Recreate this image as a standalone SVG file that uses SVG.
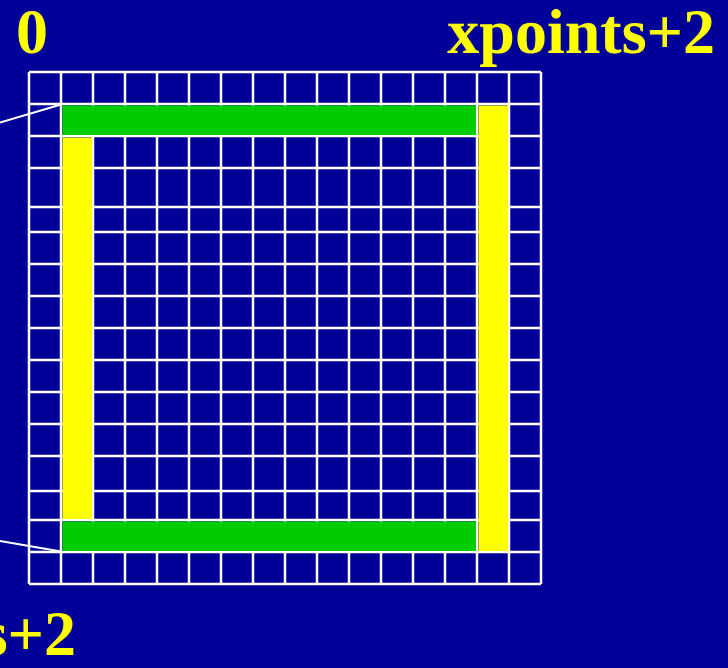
<svg xmlns="http://www.w3.org/2000/svg" width="728" height="668" viewBox="0 0 728 668">
<style>
.grid line{stroke:#ffffff;stroke-width:2.5}
.lbl{font-family:"Liberation Serif","Times New Roman",serif;font-weight:bold;font-size:64px;fill:#ffff00}
.green{fill:#00cc00}
.yellow{fill:#ffff00}
.conn{stroke:#ffffff;stroke-width:2;fill:none}
</style>
<rect width="728" height="668" fill="#000099"/>
<g id="grid" class="grid">
<line x1="29" y1="72" x2="29" y2="584"/>
<line x1="61" y1="72" x2="61" y2="584"/>
<line x1="93" y1="72" x2="93" y2="584"/>
<line x1="125" y1="72" x2="125" y2="584"/>
<line x1="157" y1="72" x2="157" y2="584"/>
<line x1="189" y1="72" x2="189" y2="584"/>
<line x1="221" y1="72" x2="221" y2="584"/>
<line x1="253" y1="72" x2="253" y2="584"/>
<line x1="285" y1="72" x2="285" y2="584"/>
<line x1="317" y1="72" x2="317" y2="584"/>
<line x1="349" y1="72" x2="349" y2="584"/>
<line x1="381" y1="72" x2="381" y2="584"/>
<line x1="413" y1="72" x2="413" y2="584"/>
<line x1="445" y1="72" x2="445" y2="584"/>
<line x1="477" y1="72" x2="477" y2="584"/>
<line x1="509" y1="72" x2="509" y2="584"/>
<line x1="541" y1="72" x2="541" y2="584"/>
<line x1="29" y1="72" x2="541" y2="72"/>
<line x1="29" y1="104" x2="541" y2="104"/>
<line x1="29" y1="136" x2="541" y2="136"/>
<line x1="29" y1="168" x2="541" y2="168"/>
<line x1="29" y1="207" x2="541" y2="207"/>
<line x1="29" y1="232" x2="541" y2="232"/>
<line x1="29" y1="264" x2="541" y2="264"/>
<line x1="29" y1="296" x2="541" y2="296"/>
<line x1="29" y1="328" x2="541" y2="328"/>
<line x1="29" y1="360" x2="541" y2="360"/>
<line x1="29" y1="392" x2="541" y2="392"/>
<line x1="29" y1="424" x2="541" y2="424"/>
<line x1="29" y1="456" x2="541" y2="456"/>
<line x1="29" y1="491" x2="541" y2="491"/>
<line x1="29" y1="520" x2="541" y2="520"/>
<line x1="29" y1="552" x2="541" y2="552"/>
<line x1="29" y1="584" x2="541" y2="584"/>
</g>
<g id="top-green"><rect class="green" x="62.5" y="105.5" width="413.5" height="29.5"/></g>
<g id="right-yellow"><rect class="yellow" x="478.5" y="105.5" width="29.5" height="445.5"/></g>
<g id="left-yellow"><rect class="yellow" x="62.5" y="137.5" width="29.5" height="381.5"/></g>
<g id="bottom-green"><rect class="green" x="62.5" y="521.5" width="413.5" height="29.5"/></g>
<g id="connectors">
<line class="conn" x1="0" y1="122.5" x2="61" y2="104.5"/>
<line class="conn" x1="0" y1="541" x2="61" y2="551.5"/>
</g>
<g id="labels">
<text class="lbl" x="16" y="53">0</text>
<text class="lbl" x="715" y="53" text-anchor="end">xpoints+2</text>
<text class="lbl" x="76" y="655" text-anchor="end">s+2</text>
</g>
</svg>
